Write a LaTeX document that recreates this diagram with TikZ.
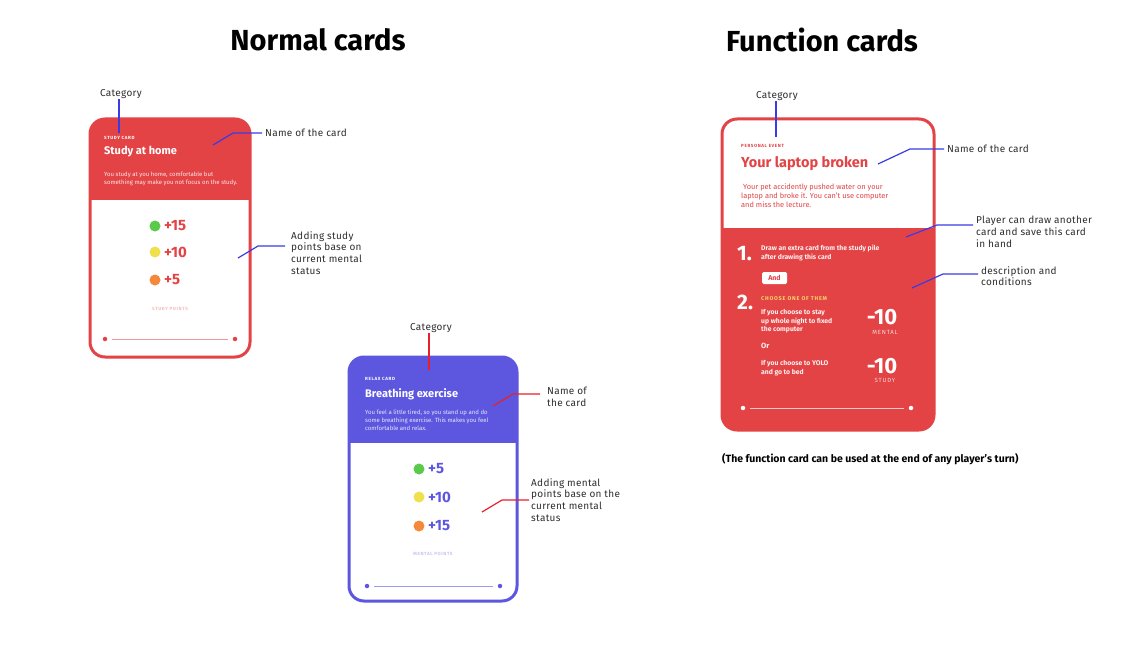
\documentclass[tikz,border=0pt]{standalone}
\usepackage{fontspec}
\setmainfont{Fira Sans}
\newfontfamily\spaced[LetterSpace=14]{Fira Sans}
\newfontfamily\notefont[LetterSpace=3]{Fira Sans}
\usetikzlibrary{calc}
\definecolor{cardred}{HTML}{E34345}
\definecolor{cardpurple}{HTML}{5D57E0}
\definecolor{noteblue}{HTML}{3B3BE6}
\definecolor{notered}{HTML}{E8202C}
\definecolor{notegray}{HTML}{2E2E2E}
\definecolor{dotgreen}{HTML}{5BC94A}
\definecolor{dotyellow}{HTML}{F1E04E}
\definecolor{dotorange}{HTML}{F5883A}
\definecolor{choosegold}{HTML}{F7D56A}
\tikzstyle{headline}=[font=\fontsize{29}{31}\selectfont\bfseries, text=black, inner sep=0pt]
\tikzstyle{note}=[font=\fontsize{10}{11.7}\selectfont\notefont, text=notegray, align=left, inner sep=0pt]
\tikzstyle{blueline}=[draw=noteblue, line width=1.2pt]
\tikzstyle{redline}=[draw=notered, line width=1.2pt]
\tikzstyle{cardtag}=[font=\fontsize{4.5}{5}\selectfont\spaced\bfseries, inner sep=0pt, anchor=west]
\tikzstyle{cardname}=[font=\fontsize{11}{12}\selectfont\bfseries, inner sep=0pt, anchor=west]
\tikzstyle{carddesc}=[font=\fontsize{6}{8}\selectfont, inner sep=0pt, anchor=north west, align=left]
\tikzstyle{ptdot}=[circle, inner sep=0pt, minimum size=11pt]
\tikzstyle{pts}=[font=\fontsize{15}{15}\selectfont\bfseries, inner sep=0pt, anchor=west]
\tikzstyle{enddot}=[circle, inner sep=0pt, minimum size=4.5pt]
\tikzstyle{rule}=[line width=0.8pt, shorten <=5pt, shorten >=5pt]
\tikzstyle{cardedge}=[line width=3pt, rounded corners=15pt]
\tikzstyle{bignum}=[font=\fontsize{21}{21}\selectfont\bfseries, text=white, inner sep=0pt, anchor=west]
\tikzstyle{fntext}=[font=\fontsize{6.8}{8.8}\selectfont\bfseries, text=white!92!cardred, inner sep=0pt, anchor=north west, align=left]
\tikzstyle{minus}=[font=\fontsize{22}{22}\selectfont\bfseries, text=white, inner sep=0pt]
\tikzstyle{minustag}=[font=\fontsize{6}{6}\selectfont\spaced, text=white!78!cardred, inner sep=0pt]

\begin{document}
\begin{tikzpicture}[x=1pt, y=-1pt]
			\fill[white] (0,0) rectangle (1142,663);
			\useasboundingbox (0,0) rectangle (1142,663);

			\node[headline] (normaltitle) at (318,40) {Normal cards};
			\node[headline] (functiontitle) at (822,40) {Function cards};

			\begin{scope}
				\clip[rounded corners=15pt] (90,119) rectangle (250,357);
				\fill[cardred] (90,119) rectangle (250,200);
			\end{scope}
			\draw[cardedge, draw=cardred] (90,119) rectangle (250,357);
			\node[cardtag, text=white] (studytag) at (104,138) {STUDY CARD};
			\node[cardname, text=white] (studyname) at (104,152) {Study at home};
			\node[carddesc, text=white!88!cardred] (studydesc) at (104,172) {You study at you home, comfortable but\\something may make you not focus on the study.};
			\foreach \i/\y/\c/\v in {1/226/dotgreen/+15, 2/252/dotyellow/+10, 3/280/dotorange/+5}{
				\node[ptdot, fill=\c] (studydot\i) at (155,\y) {};
				\node[pts, text=cardred] (studyval\i) at (164,\y) {\v};
			}
			\node[cardtag, anchor=center, text=cardred!35] (studypoints) at (170,309) {STUDY POINTS};
			\node[enddot, fill=cardred] (studyleft) at (105,339) {};
			\node[enddot, fill=cardred] (studyright) at (235,339) {};
			\draw[rule, cardred!55] (studyleft) -- (studyright);

			\node[note] (studycat) at (121,94) {Category};
			\coordinate (studycatend) at (119,133);
			\draw[blueline] (studycat.south -| studycatend) -- (studycatend);
			\node[note, anchor=west] (studynamenote) at (265,133) {Name of the card};
			\coordinate (studyname1) at (213,145);
			\coordinate (studyname2) at (233,133);
			\draw[blueline, shorten >=3pt] (studyname1) -- (studyname2) -- (studyname2 -| studynamenote.west);
			\node[note, anchor=north west] (studyadd) at (291,231) {Adding study\\points base on\\current mental\\status};
			\coordinate (studyadd1) at (238,258);
			\coordinate (studyadd2) at (258,246);
			\draw[blueline, shorten >=6pt] (studyadd1) -- (studyadd2) -- (studyadd2 -| studyadd.west);

			\begin{scope}
				\clip[rounded corners=15pt] (349,357) rectangle (517,601);
				\fill[cardpurple] (349,357) rectangle (517,443);
			\end{scope}
			\draw[cardedge, draw=cardpurple] (349,357) rectangle (517,601);
			\node[cardtag, text=white] (relaxtag) at (365,379) {RELAX CARD};
			\node[cardname, text=white] (relaxname) at (365,394) {Breathing exercise};
			\node[carddesc, text=white!85!cardpurple] (relaxdesc) at (365,410) {You feel a little tired, so you stand up and do\\some breathing exercise. This makes you feel\\comfortable and relax.};
			\foreach \i/\y/\c/\v in {1/469/dotgreen/+5, 2/497/dotyellow/+10, 3/526/dotorange/+15}{
				\node[ptdot, fill=\c] (relaxdot\i) at (419,\y) {};
				\node[pts, text=cardpurple] (relaxval\i) at (428,\y) {\v};
			}
			\node[cardtag, anchor=center, text=cardpurple!35] (relaxpoints) at (433,554) {MENTAL POINTS};
			\node[enddot, fill=cardpurple] (relaxleft) at (367,586) {};
			\node[enddot, fill=cardpurple] (relaxright) at (500,586) {};
			\draw[rule, cardpurple!60] (relaxleft) -- (relaxright);

			\node[note] (relaxcat) at (431,328) {Category};
			\coordinate (relaxcatend) at (429,370);
			\draw[redline] (relaxcat.south -| relaxcatend) -- (relaxcatend);
			\node[note, anchor=north west] (relaxnamenote) at (547,387) {Name of\\the card};
			\coordinate (relaxname1) at (493,406);
			\coordinate (relaxname2) at (513,394);
			\draw[redline, shorten >=7pt] (relaxname1) -- (relaxname2) -- (relaxname2 -| relaxnamenote.west);
			\node[note, anchor=north west] (relaxadd) at (531,478) {Adding mental\\points base on the\\current mental\\status};
			\coordinate (relaxadd1) at (482,512);
			\coordinate (relaxadd2) at (502,500);
			\draw[redline, shorten >=2pt] (relaxadd1) -- (relaxadd2) -- (relaxadd2 -| relaxadd.west);

			\begin{scope}
				\clip[rounded corners=15pt] (722,119) rectangle (934,430);
				\fill[cardred] (722,228) rectangle (934,430);
			\end{scope}
			\draw[cardedge, draw=cardred] (722,119) rectangle (934,430);
			\node[cardtag, text=cardred] (eventtag) at (741,146) {PERSONAL EVENT};
			\node[cardname, font=\fontsize{14.5}{15}\selectfont\bfseries, text=cardred] (eventname) at (741,164) {Your laptop broken};
			\node[carddesc, font=\fontsize{7.4}{9}\selectfont, text=cardred] (eventdesc) at (741,184) {\hspace{2pt}Your pet accidently pushed water on your\\laptop and broke it. You can't use computer\\and miss the lecture.};
			\node[bignum] (stepone) at (737,254) {1.};
			\node[fntext] (steponetext) at (761,245) {Draw an extra card from the study pile\\after drawing this card};
			\node[fill=white, text=cardred, rounded corners=1.5pt, inner sep=0pt, minimum width=25pt, minimum height=12pt, font=\fontsize{7}{7}\selectfont\bfseries] (andbox) at (774.5,278) {And};
			\node[bignum] (steptwo) at (737,302) {2.};
			\node[cardtag, font=\fontsize{5.5}{6}\selectfont\spaced\bfseries, text=choosegold] (choose) at (761,299) {CHOOSE ONE OF THEM};
			\node[fntext] (optionone) at (761,309) {If you choose to stay\\up whole night to fixed\\the computer};
			\node[minus] (mentalnum) at (882,317) {-10};
			\node[minustag] (mentaltag) at (885,332) {MENTAL};
			\node[fntext, font=\fontsize{7.5}{7.5}\selectfont\bfseries, anchor=west] (orword) at (761,346) {Or};
			\node[fntext] (optiontwo) at (761,360) {If you choose to YOLO\\and go to bed};
			\node[minus] (studynum) at (882,366) {-10};
			\node[minustag] (studytag2) at (885,380) {STUDY};
			\node[enddot, fill=white] (eventleft) at (743,408) {};
			\node[enddot, fill=white] (eventright) at (911,408) {};
			\draw[rule, white!70!cardred] (eventleft) -- (eventright);

			\node[note] (eventcat) at (777,96) {Category};
			\coordinate (eventcatend) at (776,137);
			\draw[blueline] (eventcat.south -| eventcatend) -- (eventcatend);
			\node[note, anchor=west] (eventnamenote) at (947,149) {Name of the card};
			\coordinate (eventname1) at (878,164);
			\coordinate (eventname2) at (910,149);
			\draw[blueline, shorten >=3pt] (eventname1) -- (eventname2) -- (eventname2 -| eventnamenote.west);
			\node[note, anchor=north west] (eventdraw) at (976,216) {Player can draw another\\card and save this card\\in hand};
			\coordinate (eventdraw1) at (906,237);
			\coordinate (eventdraw2) at (937,225);
			\draw[blueline, shorten >=3pt] (eventdraw1) -- (eventdraw2) -- (eventdraw2 -| eventdraw.west);
			\node[note, anchor=north west] (eventcond) at (981,266) {description and\\conditions};
			\coordinate (eventcond1) at (912,288);
			\coordinate (eventcond2) at (943,274);
			\draw[blueline, shorten >=3pt] (eventcond1) -- (eventcond2) -- (eventcond2 -| eventcond.west);

			\node[note, font=\fontsize{10.5}{12}\selectfont\bfseries, text=black, anchor=west] (footnote) at (722,459) {(The function card can be used at the end of any player's turn)};
		\end{tikzpicture}
\end{document}
